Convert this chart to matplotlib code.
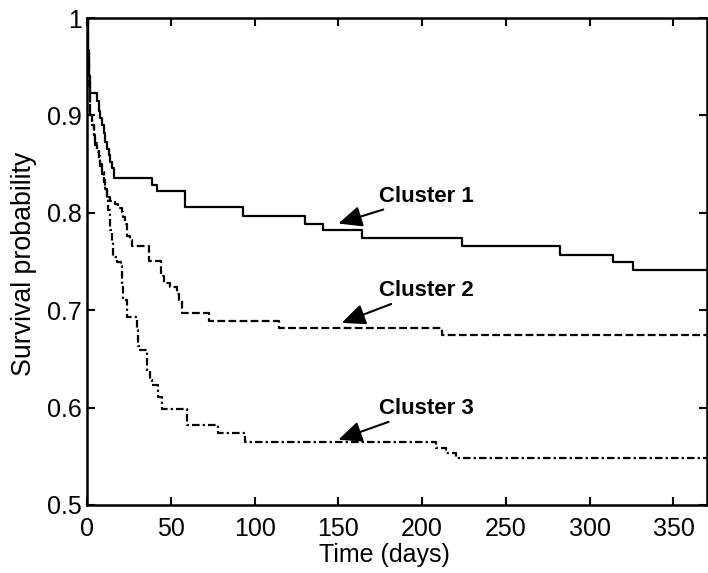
import matplotlib
matplotlib.use("Agg")
import matplotlib.pyplot as plt

plt.rcParams['font.family'] = ['Liberation Sans', 'DejaVu Sans']

# Cluster 1 (solid)
t1 = [0, 0.3, 0.6, 1.0, 1.4, 1.8, 5.8, 7, 8, 9, 10, 11, 12, 13, 14, 15, 16.3,
      38.6, 41.6, 58.5, 93.3, 130, 141, 164, 224, 282, 314, 326, 370]
s1 = [1.0, 0.98, 0.965, 0.95, 0.94, 0.923, 0.915, 0.905, 0.897, 0.89, 0.882,
      0.873, 0.866, 0.859, 0.852, 0.846, 0.836, 0.829, 0.822, 0.806, 0.797,
      0.789, 0.782, 0.774, 0.766, 0.757, 0.750, 0.741, 0.741]

# Cluster 2 (dashed)
t2 = [0, 0.5, 1, 1.5, 2, 3, 4, 5, 6, 7, 8, 9, 10, 11, 12, 14, 16.7, 18.5,
      20.7, 21.7, 22.7, 23.7, 25.7, 26.7, 37.2, 44, 46, 49.5, 53.5, 55, 56.5,
      72.7, 114.5, 212, 370]
s2 = [1.0, 0.97, 0.94, 0.92, 0.90, 0.89, 0.88, 0.87, 0.862, 0.855, 0.848,
      0.84, 0.832, 0.824, 0.816, 0.812, 0.809, 0.805, 0.801, 0.796, 0.789,
      0.776, 0.772, 0.766, 0.751, 0.735, 0.728, 0.724, 0.717, 0.710, 0.697,
      0.689, 0.682, 0.675, 0.675]

# Cluster 3 (dash-dot)
t3 = [0, 0.5, 1, 1.5, 2, 3, 4, 5, 6, 7, 8, 9, 10, 11, 12, 12.7, 13.7, 14.7,
      15.7, 17.7, 20.1, 20.7, 21.7, 24.1, 29.7, 30.7, 31.6, 35.6, 37.6, 38.6,
      42.6, 44.6, 59.5, 78.4, 94.3, 208, 214, 220, 370]
s3 = [1.0, 0.96, 0.93, 0.91, 0.90, 0.89, 0.88, 0.872, 0.865, 0.858, 0.85,
      0.842, 0.834, 0.825, 0.815, 0.803, 0.782, 0.770, 0.755, 0.750, 0.745,
      0.724, 0.710, 0.693, 0.680, 0.663, 0.659, 0.638, 0.628, 0.623, 0.611,
      0.599, 0.582, 0.574, 0.565, 0.559, 0.553, 0.548, 0.548]

labels = ["Cluster 1", "Cluster 2", "Cluster 3"]
label_xy = [(174, 0.817), (174, 0.720), (174, 0.599)]
arrow_xy = [(150, 0.789), (152, 0.687), (150, 0.567)]

xticks = [0, 50, 100, 150, 200, 250, 300, 350]
yticks = [0.5, 0.6, 0.7, 0.8, 0.9, 1.0]
yticklabels = ["0.5", "0.6", "0.7", "0.8", "0.9", "1"]

fig = plt.figure(figsize=(7.08, 5.73), dpi=100)
ax = fig.add_axes([87/708, 68/573, 620/708, 487/573])

lw = 1.6
ax.step(t1, s1, where='post', color='black', lw=lw, linestyle='-')
ax.step(t2, s2, where='post', color='black', lw=lw, linestyle=(0, (3.5, 1.5)))
ax.step(t3, s3, where='post', color='black', lw=lw, linestyle=(0, (3.4, 1.4, 1.0, 1.4)))

for lab, txy, axy in zip(labels, label_xy, arrow_xy):
    ax.annotate(lab, xy=axy, xytext=txy, fontsize=16, fontweight='bold',
                ha='left', va='center',
                arrowprops=dict(arrowstyle='-|>,head_length=0.9,head_width=0.4',
                                color='black', lw=1.5, shrinkA=0, shrinkB=0))

ax.set_xlim(0, 370)
ax.set_ylim(0.5, 1.0)
ax.set_xticks(xticks)
ax.set_yticks(yticks)
ax.set_yticklabels(yticklabels)
ax.tick_params(direction='in', length=6, width=1.5, top=True, right=True,
               labelsize=18)
ax.tick_params(axis='y', pad=3.5)
ax.tick_params(axis='x', pad=9)
for sp in ax.spines.values():
    sp.set_linewidth(1.8)

ax.set_xlabel("Time (days)", fontsize=18)
ax.set_ylabel("Survival probability", fontsize=19.3)
ax.xaxis.set_label_coords(0.48, -0.078)
ax.yaxis.set_label_coords(-0.08, 0.496)

fig.savefig("out.png", dpi=100)
